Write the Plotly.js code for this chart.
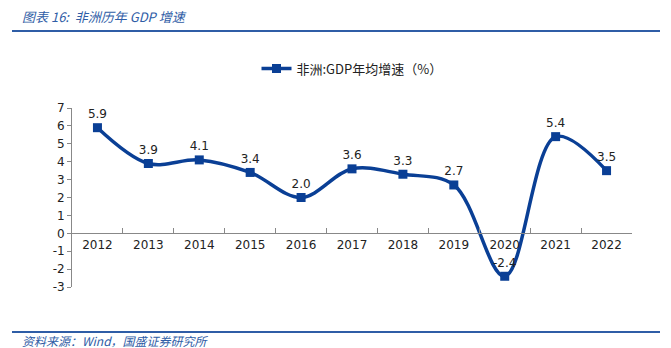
<!DOCTYPE html>
<html>
<head>
<meta charset="utf-8">
<script src="https://cdn.plot.ly/plotly-3.0.1.min.js"></script>
<style>html,body{margin:0;padding:0;background:#fff;}#chart{width:671px;height:348px;}</style>
</head>
<body>
<div id="chart"></div>
<script>
const years = ['2012','2013','2014','2015','2016','2017','2018','2019','2020','2021','2022'];
const growth = [5.9, 3.9, 4.1, 3.4, 2.0, 3.6, 3.3, 2.7, -2.4, 5.4, 3.5];
const yTicks = [-3,-2,-1,0,1,2,3,4,5,6,7];
const seriesName = '非洲:GDP年均增速（%）';
const titleText = '图表 16:  非洲历年 GDP 增速';
const sourceText = '资料来源：Wind，国盛证券研究所';

const blue = '#0A3F95';
const trace = {
  x: years, y: growth, name: seriesName,
  type: 'scatter', mode: 'lines+markers+text',
  line: {color: blue, width: 3.5, shape: 'spline', smoothing: 1},
  marker: {symbol: 'square', size: 9, color: blue},
  text: growth.map(v => v.toFixed(1)),
  textposition: 'top center',
  textfont: {family: 'DejaVu Sans', size: 12, color: '#222'},
  cliponaxis: false
};
const layout = {
  width: 671, height: 348,
  margin: {l: 72, r: 39, t: 108, b: 61},
  paper_bgcolor: '#fff', plot_bgcolor: '#fff',
  showlegend: true,
  legend: {orientation: 'h', x: 0.5, xanchor: 'center', y: 1.22, yanchor: 'middle',
           font: {family: 'Noto Sans CJK SC', size: 13, color: '#222'}},
  xaxis: {type: 'category', range: [-0.5, 10.5], tickson: 'boundaries',
          anchor: 'free', position: 0.3, showline: true, linecolor: '#888', linewidth: 1,
          ticks: 'inside', ticklen: 5, tickcolor: '#888', showgrid: false, zeroline: false,
          tickfont: {family: 'DejaVu Sans', size: 12, color: '#222'}},
  yaxis: {range: [-3, 7], tickvals: yTicks, ticktext: yTicks.map(String),
          showline: true, linecolor: '#888', linewidth: 1, ticks: 'outside', ticklen: 4,
          tickcolor: '#888', showgrid: false, zeroline: false,
          tickfont: {family: 'DejaVu Sans', size: 12, color: '#222'}},
  annotations: [
    {xref: 'paper', yref: 'paper', x: (20-72)/560, y: (287-17)/179, xanchor: 'left', yanchor: 'middle',
     text: '<i>' + titleText + '</i>', showarrow: false,
     font: {family: 'Noto Sans CJK SC', size: 13, color: '#2F5DA6'}},
    {xref: 'paper', yref: 'paper', x: (20-72)/560, y: (287-340)/179, xanchor: 'left', yanchor: 'middle',
     text: '<i>' + sourceText + '</i>', showarrow: false,
     font: {family: 'Noto Sans CJK SC', size: 12, color: '#2F5DA6'}}
  ],
  shapes: [
    {type: 'line', xref: 'paper', yref: 'paper', x0: (12-72)/560, x1: (660-72)/560, y0: (287-31)/179, y1: (287-31)/179,
     line: {color: '#2F5DA6', width: 2}},
    {type: 'line', xref: 'paper', yref: 'paper', x0: (12-72)/560, x1: (660-72)/560, y0: (287-332)/179, y1: (287-332)/179,
     line: {color: '#2F5DA6', width: 2}}
  ]
};
Plotly.newPlot('chart', [trace], layout, {displayModeBar: false, staticPlot: true});
</script>
</body>
</html>
